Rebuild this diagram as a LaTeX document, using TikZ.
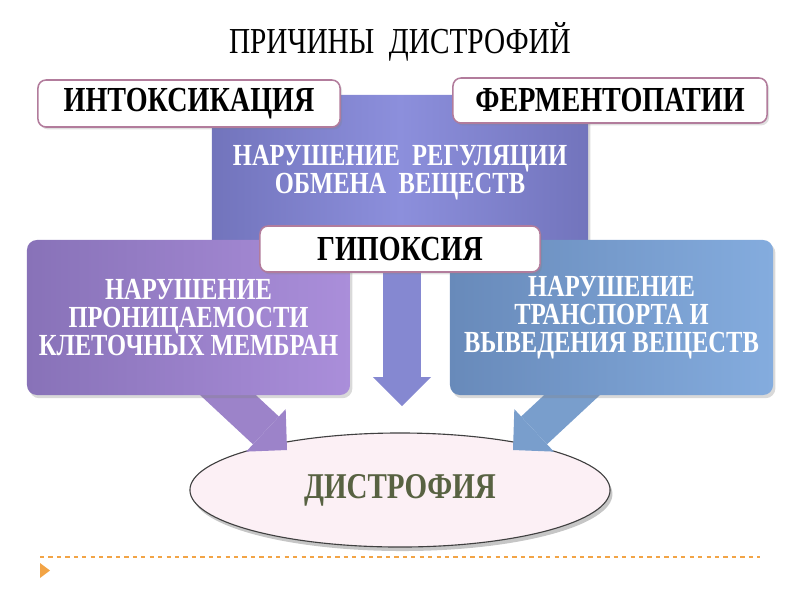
\documentclass[tikz,border=0pt]{standalone}
\usepackage{fontspec}
\setmainfont{Liberation Serif}[FakeStretch=0.8]
\usetikzlibrary{shapes.geometric,arrows.meta,shadows,backgrounds}
\definecolor{regdark}{RGB}{114,116,188}
\definecolor{reglight}{RGB}{140,143,220}
\definecolor{memdark}{RGB}{136,114,184}
\definecolor{memlight}{RGB}{170,142,218}
\definecolor{trandark}{RGB}{104,138,186}
\definecolor{tranlight}{RGB}{132,172,222}
\definecolor{tagedge}{RGB}{178,124,156}
\definecolor{dysfill}{RGB}{252,240,245}
\definecolor{dystext}{RGB}{88,98,66}
\definecolor{slideorange}{RGB}{242,164,70}

\begin{document}
\begin{tikzpicture}[x=0.025cm, y=-0.025cm,
    causebox/.style={rounded corners=0.25cm, align=center, text=white,
        font=\bfseries\fontsize{21.8}{20}\selectfont,
        drop shadow={opacity=0.3, shadow xshift=0.06cm, shadow yshift=-0.08cm}},
    tagbox/.style={draw=tagedge, line width=1.1pt, fill=white, rounded corners=0.2cm,
        font=\bfseries\fontsize{25}{26}\selectfont,
        drop shadow={opacity=0.25, shadow xshift=0.05cm, shadow yshift=-0.06cm}},
    fatarrow/.style={line width=0.95cm, -{Triangle[width=1.45cm, length=0.72cm, line width=0pt]}}]
    \useasboundingbox (0,0) rectangle (800,600);

    \node[font=\fontsize{26}{28}\selectfont] (title) at (400,42) {ПРИЧИНЫ~~ДИСТРОФИЙ};

    % three causes
    \node[causebox, minimum width=9.4cm, minimum height=3.875cm,
          left color=regdark, right color=regdark, middle color=reglight] (reg) at (400,172.5)
          {НАРУШЕНИЕ~~РЕГУЛЯЦИИ\\ОБМЕНА~~ВЕЩЕСТВ};
    \node[causebox, minimum width=8.075cm, minimum height=3.875cm,
          left color=memdark, right color=memlight] (memb) at (188.5,317.5)
          {НАРУШЕНИЕ\\ПРОНИЦАЕМОСТИ\\КЛЕТОЧНЫХ МЕМБРАН};
    \node[causebox, minimum width=8.075cm, minimum height=3.875cm,
          left color=trandark, right color=tranlight] (tran) at (611.5,317.5)
          {НАРУШЕНИЕ\\ТРАНСПОРТА И\\ВЫВЕДЕНИЯ ВЕЩЕСТВ};

    \node[tagbox, minimum width=7.55cm, minimum height=1.175cm] (intox) at (189,103.5) {ИНТОКСИКАЦИЯ};
    \node[tagbox, minimum width=7.85cm, minimum height=1.125cm] (ferm) at (610,100.5) {ФЕРМЕНТОПАТИИ};
    \node[tagbox, minimum width=7.0cm, minimum height=1.15cm] (hypox) at (400,249) {ГИПОКСИЯ};

    \coordinate (ltip) at (287,450);
    \coordinate (rtip) at (513,450);
    \coordinate (ctip) at (402,406);

    \begin{scope}[on background layer]
        \node[ellipse, draw=black!75, line width=0.8pt, fill=dysfill, minimum width=10.5cm, minimum height=2.85cm,
              drop shadow={opacity=0.45, shadow xshift=0.06cm, shadow yshift=-0.1cm},
              font=\bfseries\fontsize{25.8}{27}\selectfont, text=dystext] (dys) at (400,490) {ДИСТРОФИЯ};
        \draw[fatarrow, reglight!95!black] (reg.south -| ctip) -- (ctip);
        \draw[fatarrow, memlight!92!black] ([xshift=0.59cm, yshift=0.375cm]memb.south) -- (ltip);
        \draw[fatarrow, tranlight!92!black] ([xshift=-0.59cm, yshift=0.375cm]tran.south) -- (rtip);
    \end{scope}

    % slide footer
    \draw[slideorange, line width=0.8pt, dashed] (40,557) -- (760,557);
    \fill[slideorange] (40,563) -- (50,570.5) -- (40,578) -- cycle;
\end{tikzpicture}
\end{document}
